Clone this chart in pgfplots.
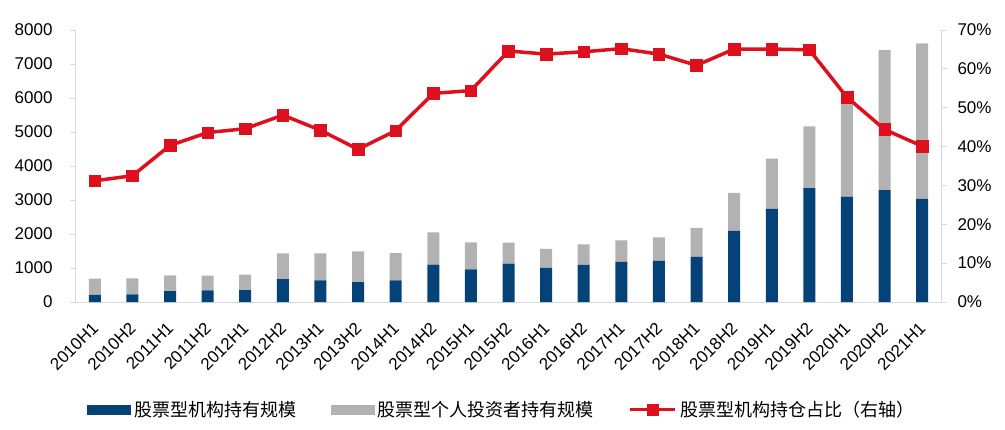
\documentclass[border=0pt]{standalone}
\usepackage{fontspec}
\setmainfont{Liberation Sans}
\newfontfamily\cjk{Noto Sans CJK SC}
\usepackage{pgfplots}
\usepackage{pgfplotstable}
\pgfplotsset{compat=1.18}
\definecolor{cblue}{RGB}{4,66,120}
\definecolor{cgray}{RGB}{178,178,178}
\definecolor{cred}{RGB}{222,16,30}
\definecolor{caxis}{RGB}{217,217,217}
\pgfplotstableread{
x inst indiv pct
0 206 480 31.2
1 225 471 32.5
2 323 461 40.3
3 343 432 43.6
4 353 451 44.6
5 676 755 48.1
6 637 794 44.2
7 588 902 39.3
8 637 804 44.1
9 1098 951 53.7
10 961 794 54.4
11 1129 618 64.6
12 1001 559 63.8
13 1089 609 64.4
14 1178 637 65.2
15 1207 697 63.8
16 1325 854 60.9
17 2090 1119 65.1
18 2738 1482 65.1
19 3346 1816 64.9
20 3101 2849 52.7
21 3287 4122 44.4
22 3032 4573 40.1
}\data
\newcommand{\fs}{\fontsize{17}{20}\selectfont}
\newcommand{\lfs}{\fontsize{18}{21}\selectfont}
\begin{document}
\begin{tikzpicture}
\useasboundingbox (-76pt,-127pt) rectangle (929pt,302pt);
\begin{axis}[
  at={(0pt,0pt)}, anchor=south west, scale only axis,
  width=865pt, height=272pt,
  xmin=-0.5, xmax=22.5, ymin=0, ymax=8000,
  ybar stacked, bar width=12pt,
  axis y line*=left, axis x line*=bottom,
  axis line style={caxis, line width=1pt},
  xtick=data,
  xticklabels={2010H1,2010H2,2011H1,2011H2,2012H1,2012H2,2013H1,2013H2,2014H1,2014H2,2015H1,2015H2,2016H1,2016H2,2017H1,2017H2,2018H1,2018H2,2019H1,2019H2,2020H1,2020H2,2021H1},
  xticklabel style={xshift=-4pt, yshift=-10pt, rotate=45, anchor=north east, font=\fs, inner sep=2pt},
  x tick style={draw=none},
  ytick={0,1000,...,8000},
  y tick style={caxis, line width=1pt},
  tick align=outside, major tick length=6pt,
  yticklabel style={font=\fs, xshift=-14pt},
  /pgf/number format/assume math mode=true,
  /pgf/number format/set thousands separator={},
]
\addplot[fill=cblue, draw=none] table[x=x, y=inst] {\data};
\addplot[fill=cgray, draw=none] table[x=x, y=indiv] {\data};
\end{axis}
\begin{axis}[
  at={(0pt,0pt)}, anchor=south west, scale only axis,
  width=865pt, height=272pt,
  xmin=-0.5, xmax=22.5, ymin=0, ymax=70,
  axis y line*=right, axis x line=none,
  axis line style={caxis, line width=1pt},
  ytick={0,10,...,70},
  yticklabel={\pgfmathprintnumber{\tick}\%},
  y tick style={caxis, line width=1pt},
  tick align=outside, major tick length=6pt,
  yticklabel style={font=\fs, xshift=7pt},
  /pgf/number format/assume math mode=true,
  legend columns=3,
  legend style={at={(0.493,-0.396)}, anchor=center, draw=none, fill=none,
    font=\cjk\lfs, inner sep=0pt, nodes={inner sep=3.5pt},
    /tikz/every even column/.append style={column sep=31pt}},
]
\addlegendimage{legend image code/.code={\fill[cblue] (0pt,-4.5pt) rectangle (43pt,4.5pt);}}
\addlegendentry{股票型机构持有规模}
\addlegendimage{legend image code/.code={\fill[cgray] (0pt,-4.5pt) rectangle (43pt,4.5pt);}}
\addlegendentry{股票型个人投资者持有规模}
\addlegendimage{legend image code/.code={\draw[cred, line width=3.5pt] (0pt,0pt) -- (45pt,0pt); \fill[cred] (17pt,-5.5pt) rectangle (28pt,5.5pt);}}
\addlegendentry{股票型机构持仓占比（右轴）}
\addplot[cred, line width=3.5pt, mark=square*, mark size=5.8pt, mark options={solid, line width=0.5pt}] table[x=x, y=pct] {\data};
\end{axis}
\end{tikzpicture}
\end{document}
